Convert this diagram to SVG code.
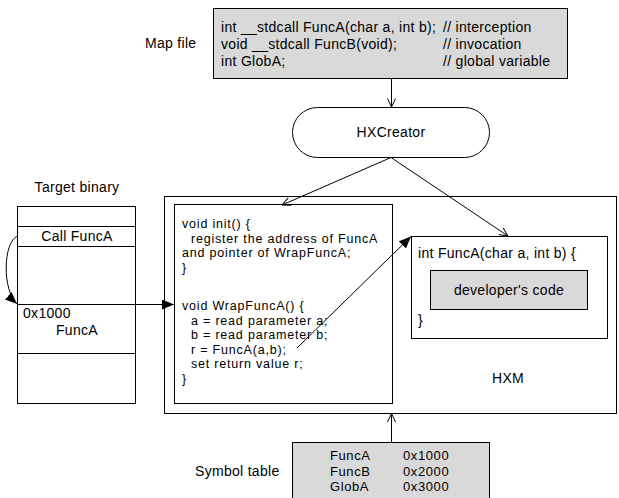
<svg xmlns="http://www.w3.org/2000/svg" width="619" height="498" viewBox="0 0 619 498">
<defs>
<style>
text{font-family:"Liberation Sans",Arial,sans-serif;font-size:14px;fill:#000;letter-spacing:0.3px}
.code{font-size:12.5px;letter-spacing:0.8px}
.sym{font-size:13px;letter-spacing:0.6px}
.box{fill:#fff;stroke:#000;stroke-width:1}
.gray{fill:#d9d9d9;stroke:#000;stroke-width:1}
.ln{fill:none;stroke:#000;stroke-width:1}
.mid{text-anchor:middle}
</style>
<marker id="open" viewBox="0 0 10 10" refX="9.5" refY="5" markerWidth="10" markerHeight="10" markerUnits="userSpaceOnUse" orient="auto">
<path d="M1,1 L9.5,5 L1,9" fill="none" stroke="#000" stroke-width="1"/>
</marker>
<marker id="fill" viewBox="0 0 12 10" refX="12" refY="5" markerWidth="12" markerHeight="10" markerUnits="userSpaceOnUse" orient="auto">
<path d="M0,0 L12,5 L0,10 z" fill="#000"/>
</marker>
</defs>

<g id="mapfile-label"><text x="145" y="48">Map file</text></g>
<g id="mapfile">
<rect class="gray" x="213.5" y="8.5" width="354" height="70"/>
<text x="221" y="32">int __stdcall FuncA(char a, int b);</text>
<text x="443" y="32">// interception</text>
<text x="221" y="49">void __stdcall FuncB(void);</text>
<text x="443" y="49">// invocation</text>
<text x="221" y="66">int GlobA;</text>
<text x="443" y="66">// global variable</text>
</g>

<g id="hxcreator">
<rect class="box" x="292.5" y="107.5" width="197" height="50" rx="25" ry="25"/>
<text class="mid" x="391" y="137">HXCreator</text>
</g>

<g id="target-binary">
<text class="mid" x="77" y="192">Target binary</text>
<rect class="box" x="17.5" y="206.5" width="118" height="197"/>
<path class="ln" d="M17.5,226.5 H135.5 M17.5,246.5 H135.5 M17.5,304.5 H135.5 M17.5,353.5 H135.5"/>
<text class="mid" x="77" y="241">Call FuncA</text>
<text x="23" y="318">0x1000</text>
<text class="mid" x="77" y="335">FuncA</text>
</g>

<g id="hxm">
<rect class="box" x="164.5" y="196.5" width="452" height="217"/>
<text class="mid" x="508" y="383">HXM</text>
</g>

<g id="wrapper">
<rect class="box" x="174.5" y="204.5" width="218" height="199"/>
<text class="code" x="182" y="228">void init() {</text>
<text class="code" x="191" y="242.5">register the address of FuncA</text>
<text class="code" x="182" y="257">and pointer of WrapFuncA;</text>
<text class="code" x="182" y="271.5">}</text>
<text class="code" x="182" y="310">void WrapFuncA() {</text>
<text class="code" x="191" y="324.5">a = read parameter a;</text>
<text class="code" x="191" y="339">b = read parameter b;</text>
<text class="code" x="191" y="353.5">r = FuncA(a,b);</text>
<text class="code" x="191" y="368">set return value r;</text>
<text class="code" x="182" y="382.5">}</text>
</g>

<g id="funca">
<rect class="box" x="411.5" y="236.5" width="196" height="102"/>
<text x="418" y="258">int FuncA(char a, int b) {</text>
<text x="418" y="325">}</text>
</g>

<g id="developer-code">
<rect class="gray" x="430.5" y="270.5" width="157" height="39"/>
<text class="mid" x="509" y="295">developer's code</text>
</g>

<g id="symbol-table-label"><text x="195" y="476">Symbol table</text></g>
<g id="symbol-table">
<rect class="gray" x="292.5" y="442.5" width="197" height="70"/>
<text class="sym" x="330" y="460">FuncA</text><text class="sym" x="403" y="460">0x1000</text>
<text class="sym" x="330" y="476">FuncB</text><text class="sym" x="403" y="476">0x2000</text>
<text class="sym" x="330" y="491">GlobA</text><text class="sym" x="403" y="491">0x3000</text>
</g>

<g id="connectors">
<line class="ln" x1="391.5" y1="78.5" x2="391.5" y2="107" marker-end="url(#open)"/>
<line class="ln" x1="391" y1="157.5" x2="282" y2="205" marker-end="url(#open)"/>
<line class="ln" x1="391" y1="157.5" x2="508" y2="236" marker-end="url(#open)"/>
<line class="ln" x1="391.5" y1="442.5" x2="391.5" y2="413.5" marker-end="url(#open)"/>
<path class="ln" d="M17.5,236 C3,242 2,290 17,304" marker-end="url(#fill)"/>
<line class="ln" x1="135.5" y1="304.5" x2="174" y2="304.5" marker-end="url(#fill)"/>
<line class="ln" x1="297" y1="348" x2="411" y2="236.5" marker-end="url(#fill)"/>
</g>
</svg>
